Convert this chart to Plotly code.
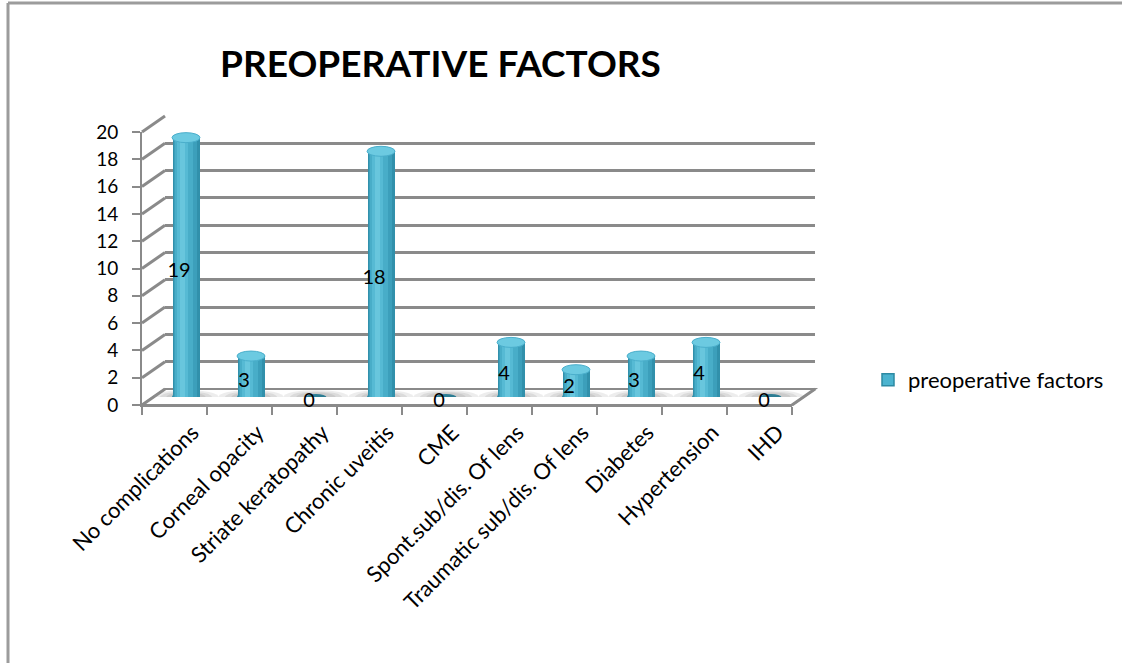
import plotly.graph_objects as go

# ---- data ----
categories = [
    "No complications", "Corneal opacity", "Striate keratopathy", "Chronic uveitis",
    "CME", "Spont.sub/dis. Of lens", "Traumatic sub/dis. Of lens", "Diabetes",
    "Hypertension", "IHD",
]
counts = [19, 3, 0, 18, 0, 4, 2, 3, 4, 0]
series_name = "preoperative factors"
chart_title = "PREOPERATIVE FACTORS"
y_ticks = list(range(0, 21, 2))

# ---- geometry of the pseudo-3D box (pixels) ----
W, H = 1122, 663
FRONT_X0, FRONT_X1 = 142, 792        # front floor edge
FRONT_Y0, FRONT_Y1 = 405, 132        # value 0 / value 20 on the front plane
DX, DY = 23, -16                     # depth offset front -> back
YMAX = 20
n = len(categories)


def px(x):
    return x / W


def py(y):
    return 1 - y / H


def plane(fx, fy):
    """domains for a plane shifted by (fx, fy) pixels from the front plane"""
    return ([px(FRONT_X0 + fx), px(FRONT_X1 + fx)],
            [py(FRONT_Y0 + fy), py(FRONT_Y1 + fy)])


GRID = "#8a8a8a"
FONT = "Lato"

back_x, back_y = plane(DX, DY)
front_x, front_y = plane(0, 0)
mid_x, mid_y = plane(DX / 2, DY / 2)
lab_x, lab_y = plane(DX / 2 - 7, DY / 2 + 5)

fig = go.Figure()

# invisible anchors so every subplot exists
fig.add_trace(go.Scatter(x=[None], y=[None], xaxis="x", yaxis="y", showlegend=False))
fig.add_trace(go.Scatter(x=categories, y=[None] * n, xaxis="x2", yaxis="y2",
                         showlegend=False, hoverinfo="skip"))

# cylinder bodies: layered bars give a rounded shading
body_layers = [
    (0.43, 0.000, "#3190ab"),
    (0.36, -0.020, "#3c9fbb"),
    (0.27, -0.040, "#48adc8"),
    (0.17, -0.055, "#56bad4"),
    (0.08, -0.065, "#68c6dd"),
]
xs = list(range(n))
for k, (w, shift, col) in enumerate(body_layers):
    fig.add_trace(go.Bar(
        x=xs, y=counts, width=w, offset=-w / 2 + shift,
        marker=dict(color=col, line=dict(width=0)),
        xaxis="x3", yaxis="y3",
        name=series_name, showlegend=False, hoverinfo="skip",
    ))

# legend entry
fig.add_trace(go.Bar(
    x=[None], y=[None], name=series_name, xaxis="x3", yaxis="y3",
    marker=dict(color="#4bb3cf", line=dict(color="#2d8aa3", width=1.5)),
    showlegend=True,
))

# value labels
fig.add_trace(go.Scatter(
    x=xs, y=[v / 2 for v in counts], mode="text",
    text=[str(v) for v in counts], textposition="middle center",
    textfont=dict(family=FONT, size=20, color="#000000"),
    xaxis="x4", yaxis="y4", showlegend=False, hoverinfo="skip", cliponaxis=False,
))

shapes = []

# outer chart frame (top and left edges)
shapes.append(dict(type="line", xref="paper", yref="paper", x0=px(8), x1=1, y0=py(3), y1=py(3),
                   line=dict(color="#9c9c9c", width=3), layer="below"))
shapes.append(dict(type="line", xref="paper", yref="paper", x0=px(8), x1=px(8), y0=py(3), y1=0,
                   line=dict(color="#9c9c9c", width=3), layer="below"))

# floor
fl = [(FRONT_X0, FRONT_Y0), (FRONT_X1, FRONT_Y0), (FRONT_X1 + DX, FRONT_Y0 + DY), (FRONT_X0 + DX, FRONT_Y0 + DY)]
path = "M " + " L ".join(f"{px(a)},{py(b)}" for a, b in fl) + " Z"
shapes.append(dict(type="path", xref="paper", yref="paper", path=path,
                   fillcolor="#ffffff", line=dict(color=GRID, width=2), layer="below"))

# side wall diagonals at each tick
unit = (FRONT_Y0 - FRONT_Y1) / YMAX
for t in y_ticks:
    yf = FRONT_Y0 - t * unit
    shapes.append(dict(type="line", xref="paper", yref="paper",
                       x0=px(FRONT_X0), y0=py(yf), x1=px(FRONT_X0 + DX), y1=py(yf + DY),
                       line=dict(color=GRID, width=3), layer="below"))

# right floor edge
shapes.append(dict(type="line", xref="paper", yref="paper",
                   x0=px(FRONT_X1), y0=py(FRONT_Y0), x1=px(FRONT_X1 + DX), y1=py(FRONT_Y0 + DY),
                   line=dict(color=GRID, width=3), layer="below"))

# shadows, bottoms, caps
ry_unit = 1 / unit  # one pixel in value units
for i, v in enumerate(counts):
    for rx, ry, op in [(0.50, 7, 0.18), (0.40, 5.5, 0.22), (0.30, 4.5, 0.25)]:
        shapes.append(dict(type="circle", xref="x3", yref="y3",
                           x0=i - rx, x1=i + rx, y0=-ry * ry_unit, y1=ry * ry_unit,
                           fillcolor="#9a9a9a", opacity=op, line=dict(width=0), layer="below"))
    if v > 0:
        shapes.append(dict(type="circle", xref="x3", yref="y3",
                           x0=i - 0.215, x1=i + 0.215, y0=-5 * ry_unit, y1=5 * ry_unit,
                           fillcolor="#3190ab", line=dict(width=0), layer="below"))
        shapes.append(dict(type="circle", xref="x3", yref="y3",
                           x0=i - 0.215, x1=i + 0.215, y0=v - 5 * ry_unit, y1=v + 5 * ry_unit,
                           fillcolor="#6ccae1", line=dict(color="#4aaecb", width=1), layer="above"))
    else:
        shapes.append(dict(type="circle", xref="x3", yref="y3",
                           x0=i - 0.16, x1=i + 0.16, y0=-3 * ry_unit, y1=3 * ry_unit,
                           fillcolor="#2c7d93", line=dict(width=0), layer="below"))

hidden = dict(showgrid=False, zeroline=False, showline=False, showticklabels=False, ticks="",
              automargin=False)

fig.update_layout(
    width=W, height=H,
    margin=dict(l=0, r=0, t=0, b=0, pad=0, autoexpand=False),
    paper_bgcolor="#ffffff", plot_bgcolor="rgba(0,0,0,0)",
    barmode="overlay", bargap=0,
    font=dict(family=FONT, size=18, color="#000000"),
    shapes=shapes,
    showlegend=True,
    legend=dict(x=px(868), y=py(380), xanchor="left", yanchor="middle",
                font=dict(family=FONT, size=22), bgcolor="rgba(0,0,0,0)"),
    annotations=[dict(text=f"<b>{chart_title}</b>", xref="paper", yref="paper",
                      x=px(440), y=py(62), xanchor="center", yanchor="middle", showarrow=False,
                      font=dict(family=FONT, size=37, color="#000000"))],
    # back wall
    xaxis=dict(domain=back_x, range=[-0.5, n - 0.5], anchor="y", **hidden),
    yaxis=dict(domain=back_y, range=[0, YMAX], anchor="x", dtick=2,
               showgrid=True, gridcolor=GRID, gridwidth=3, automargin=False,
               zeroline=False, showline=False, showticklabels=False, ticks=""),
    # front axes
    xaxis2=dict(domain=front_x, anchor="y2", type="category", categoryorder="array",
                categoryarray=categories, range=[-0.5, n - 0.5], tickson="boundaries",
                ticks="outside", ticklen=8, tickwidth=2, tickcolor=GRID, automargin=False,
                ticklabelshift=18, ticklabelstandoff=4,
                showline=True, linecolor=GRID, linewidth=2, showgrid=False, zeroline=False,
                tickangle=-45, tickfont=dict(family=FONT, size=22, color="#000000")),
    yaxis2=dict(domain=front_y, anchor="x2", range=[0, YMAX], tickvals=y_ticks,
                ticks="outside", ticklen=8, tickwidth=2, tickcolor=GRID, automargin=False,
                ticklabelstandoff=10,
                showline=True, linecolor=GRID, linewidth=2, showgrid=False, zeroline=False,
                tickfont=dict(family=FONT, size=19, color="#000000")),
    # bar plane (mid depth)
    xaxis3=dict(domain=mid_x, anchor="y3", range=[-0.5, n - 0.5], **hidden),
    yaxis3=dict(domain=mid_y, anchor="x3", range=[0, YMAX], **hidden),
    # label plane
    xaxis4=dict(domain=lab_x, anchor="y4", range=[-0.5, n - 0.5], **hidden),
    yaxis4=dict(domain=lab_y, anchor="x4", range=[0, YMAX], **hidden),
)

fig.write_html("out.html")
